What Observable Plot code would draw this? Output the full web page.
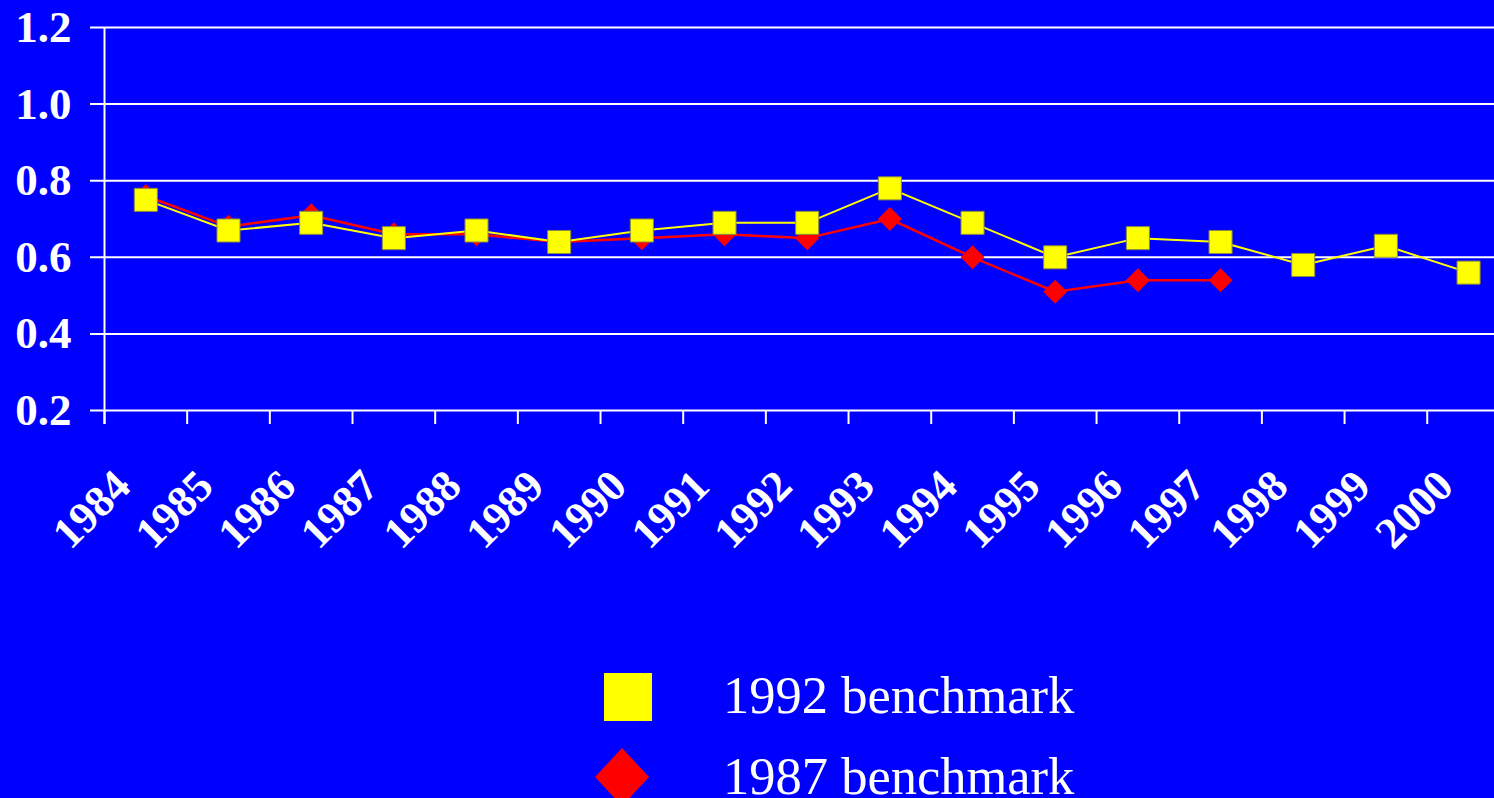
<!DOCTYPE html>
<html>
<head>
<meta charset="utf-8">
<script src="https://cdn.jsdelivr.net/npm/d3@7"></script>
<script src="https://cdn.jsdelivr.net/npm/@observablehq/plot@0.6"></script>
<style>
  html, body { margin: 0; padding: 0; background: #0000ff; }
  #chart { position: relative; width: 1494px; height: 798px; background: #0000ff; overflow: hidden; }
  #chart > svg { display: block; }
</style>
</head>
<body>
<div id="chart"></div>
<script>
// ---- data ----
const years = ["1984","1985","1986","1987","1988","1989","1990","1991","1992","1993","1994","1995","1996","1997","1998","1999","2000"];
const bench1992 = [0.75,0.67,0.69,0.65,0.67,0.64,0.67,0.69,0.69,0.78,0.69,0.60,0.65,0.64,0.58,0.63,0.56];
const bench1987 = [0.76,0.68,0.71,0.66,0.66,0.64,0.65,0.66,0.65,0.70,0.60,0.51,0.54,0.54,null,null,null];
const yTicks = [0.2,0.4,0.6,0.8,1.0,1.2];
const seriesNames = ["1992 benchmark","1987 benchmark"];
const seriesColors = ["#ffff00","#ff0000"];

// ---- table ----
const rows92 = years.map((y, i) => ({year: y, value: bench1992[i], series: seriesNames[0]}));
const rows87 = years.map((y, i) => ({year: y, value: bench1987[i], series: seriesNames[1]})).filter(d => d.value != null);

const rangeX = [104, 1509.4];
const bw = (rangeX[1] - rangeX[0]) / years.length;
const font = "'Liberation Serif','Times New Roman',serif";

const chart = Plot.plot({
  width: 1494,
  height: 640,
  marginTop: 27,
  marginBottom: 230,
  marginLeft: 104,
  marginRight: 0,
  style: {background: "transparent", color: "white", fontFamily: font, fontWeight: "bold", overflow: "hidden"},
  x: {type: "band", domain: years, range: rangeX, padding: 0, round: false, label: null},
  y: {type: "linear", domain: [0.2, 1.2], label: null},
  marks: [
    Plot.ruleY(yTicks, {stroke: "white", strokeWidth: 2, insetLeft: -14}),
    Plot.ruleX([years[0]], {x: d => d, dx: -bw / 2, stroke: "white", strokeWidth: 2, insetBottom: -14}),
    Plot.ruleX(years, {x: d => d, y1: 0.2, y2: 0.2, dx: -bw / 2, insetBottom: -14, stroke: "white", strokeWidth: 2}),
    Plot.axisY({ticks: yTicks, tickSize: 0, tickPadding: 33, tickFormat: d3.format(".1f"), fontSize: 45, fontWeight: "bold", fill: "white", label: null}),
    Plot.axisX({tickSize: 0, tickPadding: 78, tickRotate: -45, textAnchor: "end", lineAnchor: "bottom", dx: -13, fontSize: 44, fontWeight: "bold", fill: "white", label: null}),
    Plot.line(rows87, {x: "year", y: "value", stroke: seriesColors[1], strokeWidth: 2.5}),
    Plot.dot(rows87, {x: "year", y: "value", symbol: "diamond2", r: 10.8, fill: seriesColors[1], stroke: "none"}),
    Plot.line(rows92, {x: "year", y: "value", stroke: seriesColors[0], strokeWidth: 2}),
    Plot.dot(rows92, {x: "year", y: "value", symbol: "square", r: 13, fill: seriesColors[0], stroke: "#8c8c3a", strokeWidth: 1})
  ]
});
document.getElementById("chart").appendChild(chart);

// ---- legend (below the plot) ----
const legend = d3.create("svg")
  .attr("width", 1494)
  .attr("height", 158)
  .style("position", "absolute").style("left", "0px").style("top", "640px");
legend.append("rect").attr("x", 604).attr("y", 33).attr("width", 48).attr("height", 48).attr("fill", seriesColors[0]);
legend.append("path").attr("d", "M622,108L649,137L622,166L595,137Z").attr("fill", seriesColors[1]);
legend.selectAll("text").data(seriesNames).join("text")
  .attr("x", 723)
  .attr("y", (d, i) => i === 0 ? 73 : 154)
  .attr("fill", "white")
  .attr("font-family", font)
  .attr("font-size", 52.5)
  .text(d => d);
document.getElementById("chart").appendChild(legend.node());
</script>
</body>
</html>
